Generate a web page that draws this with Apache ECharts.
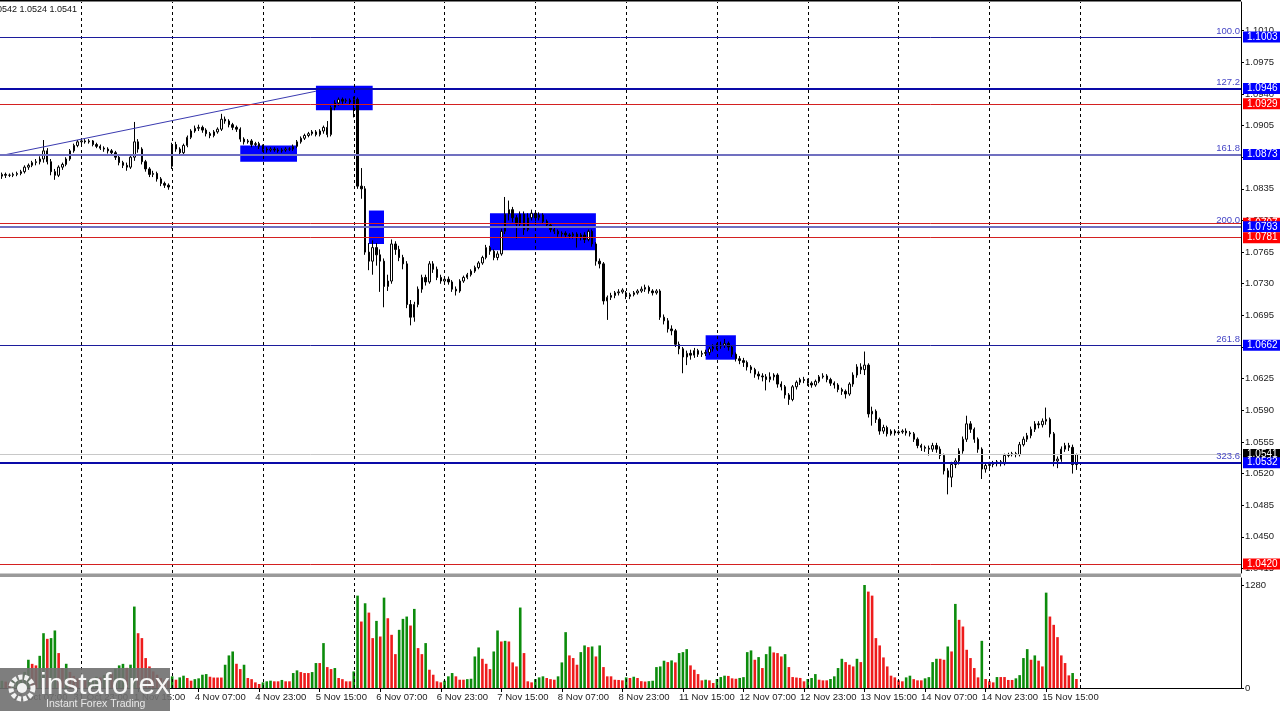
<!DOCTYPE html>
<html><head><meta charset="utf-8">
<script src="https://cdn.jsdelivr.net/npm/echarts@6/dist/echarts.min.js"></script>
<style>html,body{margin:0;padding:0;background:#fff}#c{width:1280px;height:711px}</style>
</head><body><div id="c"></div>
<script>
// ---- DATA: hourly candles [open, close, low, high] per trading day ----
const oct31 = [
[1.0849,1.0851,1.0846,1.0853],[1.0851,1.0850,1.0847,1.0853],[1.0850,1.0850,1.0848,1.0852],[1.0850,1.0851,1.0848,1.0853],
[1.0851,1.0852,1.0849,1.0854],[1.0852,1.0854,1.0850,1.0856],[1.0854,1.0859,1.0852,1.0861],[1.0859,1.0861,1.0856,1.0863],
[1.0861,1.0864,1.0859,1.0866],[1.0864,1.0865,1.0861,1.0868],[1.0865,1.0868,1.0862,1.0871],[1.0868,1.0877,1.0864,1.0889],
[1.0877,1.0865,1.0862,1.0880],[1.0865,1.0854,1.0850,1.0868],[1.0854,1.0850,1.0845,1.0857],[1.0850,1.0859,1.0848,1.0861],
[1.0859,1.0862,1.0856,1.0864],[1.0862,1.0868,1.0860,1.0870],[1.0868,1.0877,1.0866,1.0879],[1.0877,1.0883,1.0875,1.0885],
[1.0883,1.0887,1.0881,1.0889]];
const nov01 = [
[1.0887,1.0888,1.0884,1.0891],[1.0888,1.0887,1.0885,1.0890],[1.0887,1.0888,1.0885,1.0890],[1.0888,1.0884,1.0882,1.0889],
[1.0884,1.0882,1.0880,1.0886],[1.0882,1.0880,1.0878,1.0884],[1.0880,1.0879,1.0876,1.0882],[1.0879,1.0877,1.0874,1.0881],
[1.0877,1.0875,1.0872,1.0879],[1.0875,1.0870,1.0867,1.0877],[1.0870,1.0864,1.0861,1.0872],[1.0864,1.0861,1.0858,1.0866],
[1.0861,1.0859,1.0855,1.0864],[1.0859,1.0870,1.0857,1.0872],[1.0870,1.0887,1.0866,1.0909],[1.0887,1.0879,1.0875,1.0890],
[1.0879,1.0865,1.0862,1.0881],[1.0865,1.0857,1.0854,1.0867],[1.0857,1.0851,1.0848,1.0859],[1.0851,1.0852,1.0848,1.0855],
[1.0852,1.0846,1.0843,1.0854],[1.0846,1.0841,1.0838,1.0848],[1.0841,1.0839,1.0836,1.0843],[1.0839,1.0837,1.0834,1.0841]];
const nov04 = [
[1.0860,1.0884,1.0857,1.0886],[1.0884,1.0879,1.0876,1.0887],[1.0879,1.0875,1.0872,1.0881],[1.0875,1.0883,1.0873,1.0885],
[1.0883,1.0892,1.0881,1.0894],[1.0892,1.0899,1.0890,1.0901],[1.0899,1.0902,1.0897,1.0905],[1.0902,1.0903,1.0899,1.0906],
[1.0903,1.0900,1.0897,1.0905],[1.0900,1.0896,1.0893,1.0902],[1.0896,1.0894,1.0891,1.0898],[1.0894,1.0898,1.0892,1.0900],
[1.0898,1.0901,1.0896,1.0903],[1.0901,1.0912,1.0899,1.0918],[1.0912,1.0910,1.0907,1.0915],[1.0910,1.0906,1.0903,1.0912],
[1.0906,1.0903,1.0900,1.0908],[1.0903,1.0901,1.0898,1.0905],[1.0901,1.0890,1.0887,1.0903],[1.0890,1.0887,1.0884,1.0892],
[1.0887,1.0888,1.0885,1.0890],[1.0888,1.0884,1.0881,1.0890],[1.0884,1.0885,1.0882,1.0887],[1.0885,1.0882,1.0879,1.0887]];
const nov05 = [
[1.0882,1.0879,1.0876,1.0884],[1.0879,1.0878,1.0875,1.0881],[1.0878,1.0879,1.0876,1.0881],[1.0879,1.0878,1.0876,1.0881],
[1.0878,1.0877,1.0875,1.0880],[1.0877,1.0878,1.0875,1.0880],[1.0878,1.0879,1.0876,1.0881],[1.0879,1.0879,1.0877,1.0881],
[1.0879,1.0882,1.0877,1.0884],[1.0882,1.0887,1.0880,1.0889],[1.0887,1.0891,1.0885,1.0893],[1.0891,1.0894,1.0889,1.0896],
[1.0894,1.0896,1.0892,1.0898],[1.0896,1.0898,1.0894,1.0900],[1.0898,1.0895,1.0893,1.0900],[1.0895,1.0899,1.0893,1.0901],
[1.0899,1.0903,1.0896,1.0905],[1.0903,1.0895,1.0892,1.0910],[1.0895,1.0925,1.0893,1.0927],[1.0925,1.0930,1.0922,1.0933],
[1.0930,1.0934,1.0927,1.0936],[1.0934,1.0932,1.0929,1.0936],[1.0932,1.0933,1.0930,1.0935],[1.0933,1.0931,1.0928,1.0935]];
const nov06 = [
[1.0931,1.0934,1.0914,1.0937],[1.0934,1.0838,1.0835,1.0936],[1.0838,1.0835,1.0824,1.0858],[1.0835,1.0765,1.0762,1.0838],
[1.0765,1.0755,1.0745,1.0775],[1.0755,1.0770,1.0740,1.0778],[1.0770,1.0762,1.0750,1.0775],[1.0762,1.0755,1.0721,1.0768],
[1.0755,1.0727,1.0704,1.0758],[1.0727,1.0733,1.0722,1.0740],[1.0733,1.0774,1.0730,1.0779],[1.0774,1.0768,1.0762,1.0777],
[1.0768,1.0759,1.0755,1.0772],[1.0759,1.0752,1.0746,1.0762],[1.0752,1.0707,1.0703,1.0755],[1.0707,1.0693,1.0684,1.0712],
[1.0693,1.0707,1.0688,1.0710],[1.0707,1.0724,1.0704,1.0727],[1.0724,1.0737,1.0720,1.0740],[1.0737,1.0732,1.0728,1.0740],
[1.0732,1.0752,1.0730,1.0755],[1.0752,1.0746,1.0742,1.0755],[1.0746,1.0737,1.0734,1.0749],[1.0737,1.0733,1.0730,1.0740]];
const nov07 = [
[1.0733,1.0735,1.0730,1.0738],[1.0735,1.0732,1.0729,1.0738],[1.0732,1.0724,1.0721,1.0734],[1.0724,1.0722,1.0717,1.0727],
[1.0722,1.0733,1.0720,1.0735],[1.0733,1.0737,1.0731,1.0739],[1.0737,1.0740,1.0735,1.0742],[1.0740,1.0744,1.0738,1.0746],
[1.0744,1.0748,1.0742,1.0750],[1.0748,1.0753,1.0746,1.0755],[1.0753,1.0759,1.0751,1.0761],[1.0759,1.0770,1.0757,1.0773],
[1.0770,1.0766,1.0762,1.0772],[1.0766,1.0759,1.0756,1.0768],[1.0759,1.0763,1.0756,1.0766],[1.0763,1.0788,1.0761,1.0791],
[1.0788,1.0807,1.0785,1.0826],[1.0807,1.0812,1.0800,1.0822],[1.0812,1.0803,1.0798,1.0815],[1.0803,1.0796,1.0780,1.0806],
[1.0796,1.0807,1.0792,1.0810],[1.0807,1.0790,1.0784,1.0810],[1.0790,1.0803,1.0788,1.0808],[1.0803,1.0808,1.0800,1.0812]];
const nov08 = [
[1.0808,1.0803,1.0799,1.0811],[1.0803,1.0806,1.0800,1.0809],[1.0806,1.0799,1.0796,1.0808],[1.0799,1.0795,1.0792,1.0801],
[1.0795,1.0790,1.0787,1.0797],[1.0790,1.0788,1.0785,1.0792],[1.0788,1.0785,1.0782,1.0790],[1.0785,1.0786,1.0782,1.0788],
[1.0786,1.0784,1.0781,1.0788],[1.0784,1.0783,1.0780,1.0786],[1.0783,1.0785,1.0780,1.0787],[1.0785,1.0781,1.0770,1.0787],
[1.0781,1.0784,1.0778,1.0786],[1.0784,1.0779,1.0775,1.0787],[1.0779,1.0788,1.0777,1.0790],[1.0788,1.0774,1.0771,1.0790],
[1.0774,1.0755,1.0750,1.0776],[1.0755,1.0752,1.0747,1.0758],[1.0752,1.0711,1.0707,1.0754],[1.0711,1.0715,1.0690,1.0717],
[1.0715,1.0717,1.0712,1.0720],[1.0717,1.0720,1.0714,1.0722],[1.0720,1.0721,1.0717,1.0724],[1.0721,1.0723,1.0719,1.0725]];
const nov11 = [
[1.0720,1.0716,1.0713,1.0722],[1.0716,1.0718,1.0713,1.0720],[1.0718,1.0720,1.0716,1.0722],[1.0720,1.0722,1.0718,1.0724],
[1.0722,1.0724,1.0720,1.0727],[1.0724,1.0726,1.0721,1.0729],[1.0726,1.0722,1.0719,1.0728],[1.0722,1.0720,1.0717,1.0724],
[1.0720,1.0722,1.0718,1.0724],[1.0722,1.0693,1.0690,1.0724],[1.0693,1.0689,1.0685,1.0696],[1.0689,1.0680,1.0676,1.0692],
[1.0680,1.0678,1.0673,1.0684],[1.0678,1.0663,1.0660,1.0680],[1.0663,1.0658,1.0652,1.0666],[1.0658,1.0649,1.0631,1.0660],
[1.0649,1.0653,1.0640,1.0656],[1.0653,1.0651,1.0646,1.0657],[1.0651,1.0656,1.0648,1.0659],[1.0656,1.0652,1.0649,1.0658],
[1.0652,1.0653,1.0649,1.0656],[1.0653,1.0654,1.0650,1.0657],[1.0654,1.0658,1.0651,1.0660],[1.0658,1.0660,1.0655,1.0663]];
const nov12 = [
[1.0660,1.0661,1.0657,1.0664],[1.0661,1.0662,1.0658,1.0666],[1.0662,1.0664,1.0659,1.0669],[1.0664,1.0660,1.0656,1.0666],
[1.0660,1.0652,1.0649,1.0662],[1.0652,1.0647,1.0644,1.0654],[1.0647,1.0645,1.0641,1.0650],[1.0645,1.0643,1.0638,1.0648],
[1.0643,1.0638,1.0634,1.0645],[1.0638,1.0635,1.0631,1.0640],[1.0635,1.0630,1.0626,1.0637],[1.0630,1.0628,1.0624,1.0633],
[1.0628,1.0627,1.0622,1.0631],[1.0627,1.0624,1.0612,1.0630],[1.0624,1.0627,1.0621,1.0632],[1.0627,1.0629,1.0623,1.0631],
[1.0629,1.0619,1.0615,1.0631],[1.0619,1.0616,1.0612,1.0622],[1.0616,1.0607,1.0603,1.0618],[1.0607,1.0602,1.0596,1.0609],
[1.0602,1.0616,1.0600,1.0618],[1.0616,1.0621,1.0613,1.0623],[1.0621,1.0624,1.0618,1.0626],[1.0624,1.0623,1.0620,1.0627]];
const nov13 = [
[1.0623,1.0620,1.0617,1.0625],[1.0620,1.0618,1.0615,1.0622],[1.0618,1.0622,1.0616,1.0624],[1.0622,1.0627,1.0620,1.0629],
[1.0627,1.0628,1.0625,1.0631],[1.0628,1.0624,1.0621,1.0630],[1.0624,1.0620,1.0617,1.0626],[1.0620,1.0618,1.0614,1.0622],
[1.0618,1.0613,1.0610,1.0620],[1.0613,1.0611,1.0607,1.0615],[1.0611,1.0608,1.0603,1.0613],[1.0608,1.0619,1.0606,1.0621],
[1.0619,1.0629,1.0616,1.0632],[1.0629,1.0638,1.0626,1.0641],[1.0638,1.0635,1.0630,1.0642],[1.0635,1.0640,1.0629,1.0655],
[1.0640,1.0586,1.0582,1.0642],[1.0586,1.0589,1.0573,1.0594],[1.0589,1.0580,1.0576,1.0591],[1.0580,1.0567,1.0563,1.0582],
[1.0567,1.0571,1.0564,1.0574],[1.0571,1.0564,1.0561,1.0573],[1.0564,1.0567,1.0562,1.0569],[1.0567,1.0565,1.0562,1.0569]];
const nov14 = [
[1.0565,1.0566,1.0563,1.0568],[1.0566,1.0567,1.0564,1.0569],[1.0567,1.0565,1.0562,1.0570],[1.0565,1.0564,1.0561,1.0567],
[1.0564,1.0558,1.0555,1.0566],[1.0558,1.0551,1.0548,1.0560],[1.0551,1.0549,1.0545,1.0553],[1.0549,1.0548,1.0544,1.0551],
[1.0548,1.0547,1.0540,1.0551],[1.0547,1.0551,1.0544,1.0554],[1.0551,1.0547,1.0543,1.0554],[1.0547,1.0540,1.0536,1.0550],
[1.0540,1.0523,1.0519,1.0542],[1.0523,1.0516,1.0497,1.0526],[1.0516,1.0530,1.0505,1.0533],[1.0530,1.0534,1.0526,1.0537],
[1.0534,1.0545,1.0530,1.0548],[1.0545,1.0558,1.0542,1.0561],[1.0558,1.0575,1.0555,1.0584],[1.0575,1.0569,1.0565,1.0578],
[1.0569,1.0558,1.0554,1.0571],[1.0558,1.0547,1.0543,1.0560],[1.0547,1.0525,1.0514,1.0549],[1.0525,1.0529,1.0521,1.0532]];
const nov15 = [
[1.0529,1.0530,1.0526,1.0533],[1.0530,1.0531,1.0527,1.0534],[1.0531,1.0533,1.0528,1.0535],[1.0533,1.0531,1.0528,1.0535],
[1.0531,1.0540,1.0529,1.0542],[1.0540,1.0541,1.0538,1.0543],[1.0541,1.0542,1.0539,1.0544],[1.0542,1.0541,1.0538,1.0544],
[1.0541,1.0552,1.0539,1.0555],[1.0552,1.0558,1.0550,1.0561],[1.0558,1.0562,1.0555,1.0565],[1.0562,1.0569,1.0559,1.0572],
[1.0569,1.0575,1.0566,1.0578],[1.0575,1.0574,1.0570,1.0578],[1.0574,1.0578,1.0571,1.0581],[1.0578,1.0580,1.0574,1.0593],
[1.0580,1.0564,1.0560,1.0582],[1.0564,1.0534,1.0528,1.0566],[1.0534,1.0536,1.0526,1.0539],[1.0536,1.0547,1.0533,1.0550],
[1.0547,1.0551,1.0544,1.0554],[1.0551,1.0549,1.0545,1.0554],[1.0549,1.0530,1.0520,1.0552],[1.0530,1.0541,1.0524,1.0542]];

// ---- DATA: tick volumes per day ----
const volOct31 = [90,80,70,100,120,160,200,351,300,281,400,681,611,620,715,434,248,301,200,150,120];
const volNov01 = [110,95,100,120,140,130,160,200,180,240,281,300,250,290,1012,681,620,372,268,206,165,124,103,90];
const volNov04 = [145,103,132,153,124,91,110,120,165,173,140,130,130,130,289,405,454,301,235,289,124,110,70,50];
const volNov05 = [70,83,91,83,83,100,83,83,186,219,198,186,186,198,310,310,558,260,235,248,124,110,83,83];
const volNov06 = [206,1148,826,1053,937,620,834,640,1123,867,661,421,723,859,888,776,983,496,421,558,227,165,83,70];
const volNov07 = [91,145,186,145,103,103,110,115,392,504,363,301,235,454,715,578,586,578,318,268,1000,434,83,70];
const volNov08 = [110,132,145,124,110,103,145,318,694,405,372,289,446,529,508,516,392,529,260,145,145,103,100,95];
const volNov11 = [132,124,140,124,85,80,85,90,260,268,339,322,343,318,434,446,483,281,227,173,95,103,95,62];
const volNov12 = [112,136,153,150,120,115,125,135,446,467,351,384,248,421,516,442,434,392,421,260,136,130,125,83];
const volNov13 = [112,124,173,103,95,95,112,145,248,363,322,289,268,363,322,1280,1198,1148,620,529,380,268,153,132];
const volNov14 = [95,83,132,153,110,95,95,120,135,322,363,363,351,516,454,1045,847,764,475,372,248,132,586,112];
const volNov15 = [83,70,136,136,136,100,100,120,160,372,483,351,405,339,268,1185,888,785,632,405,310,157,186,112];

// ---- DATA: trading days (first hour of each) ----
const tradingDays = [['31 Oct',3],['1 Nov',0],['4 Nov',0],['5 Nov',0],['6 Nov',0],['7 Nov',0],['8 Nov',0],
                     ['11 Nov',0],['12 Nov',0],['13 Nov',0],['14 Nov',0],['15 Nov',0]];
// ---- DATA: horizontal levels ----
const levelPrices = [1.1003, 1.0946, 1.0929, 1.0873, 1.0797, 1.0793, 1.0781, 1.0662, 1.0541, 1.0532, 1.0420];
const levelKinds  = ['fib','fibBold','red','fibLight','red','fibLight','red','fib','current','fibBold','red'];
const fibNames    = {1.1003:'100.0', 1.0946:'127.2', 1.0873:'161.8', 1.0793:'200.0', 1.0662:'261.8', 1.0532:'323.6'};
const priceTicks  = [1.0415,1.0450,1.0485,1.0520,1.0555,1.0590,1.0625,1.0660,1.0695,1.0730,1.0765,1.0800,1.0835,1.0870,1.0905,1.0940,1.0975,1.1010];
const volumeTicks = [0, 1280];
// zones: [startBar, endBar, lowPrice, highPrice]
const zones = [[63,78,1.0865,1.0883],[83,98,1.0922,1.0949],[97,101,1.0774,1.0811],[129,157,1.0767,1.0808],[186,194,1.0646,1.0673]];
// trend line: [bar, price] endpoints
const trendLine = [[0,1.0872],[83,1.0943]];
const header = '1.0530 1.0542 1.0524 1.0541';

// ---- build ----
const candles = [].concat(oct31,nov01,nov04,nov05,nov06,nov07,nov08,nov11,nov12,nov13,nov14,nov15);
const vols = [].concat(volOct31,volNov01,volNov04,volNov05,volNov06,volNov07,volNov08,volNov11,volNov12,volNov13,volNov14,volNov15);
const cats = [];
const dayStarts = [];
tradingDays.forEach(([d,h0]) => {
  if (h0 === 0) dayStarts.push(cats.length);
  for (let h = h0; h < 24; h++) cats.push(d + ' ' + String(h).padStart(2,'0') + ':00');
});
const nData = cats.length;
dayStarts.push(nData);
for (let k = 0; k < 43; k++) cats.push('16 Nov ' + String(k % 24).padStart(2,'0') + ':00#' + k);

const GREEN = '#0c8c0c', RED = '#ee1c1c';
const volData = vols.map((v,i) => ({value:v, itemStyle:{color:(i===0 || v>vols[i-1]) ? GREEN : RED}}));

const FONT = 'Liberation Sans';
const styleOf = {
  fib:      {color:'#1c1c9c', width:1},
  fibBold:  {color:'#0a0aa8', width:2},
  fibLight: {color:'#7070c0', width:2},
  red:      {color:'#d42020', width:1},
  current:  {color:'#c8c8c8', width:1}
};
const boxColor = {fib:'#0000ff', fibBold:'#0000ff', fibLight:'#0000ff', red:'#ff0000', current:'#000000'};

const levelLines = [];
levelPrices.forEach((p,i) => {
  const k = levelKinds[i];
  levelLines.push({
    yAxis: p,
    lineStyle: {color: styleOf[k].color, width: styleOf[k].width, type:'solid'},
    label: {show:true, position:'end', distance:2, formatter: p.toFixed(4), color:'#fff',
            backgroundColor: boxColor[k], padding:[1,4,0,4], fontFamily:FONT, fontSize:10, lineHeight:10}
  });
});
Object.keys(fibNames).forEach(p => {
  levelLines.push({
    yAxis: +p,
    lineStyle: {color:'rgba(0,0,0,0)', width:0},
    label: {show:true, position:'insideEndTop', distance:[1,1], formatter: fibNames[p], color:'#4646c6',
            fontFamily:FONT, fontSize:9.5, opacity:1}
  });
});
const dashedDays = dayStarts.map(i => ({xAxis: cats[i]}));

const chart = echarts.init(document.getElementById('c'), null, {renderer:'canvas'});
chart.setOption({
  animation:false,
  backgroundColor:'#ffffff',
  grid:[
    {left:-3, width:1244, top:2, height:571},
    {left:-3, width:1244, top:578, height:110}
  ],
  xAxis:[
    {type:'category', gridIndex:0, data:cats, boundaryGap:true, show:false},
    {type:'category', gridIndex:1, data:cats, boundaryGap:true,
     axisLine:{lineStyle:{color:'#000', width:1}},
     axisTick:{show:true, alignWithLabel:true, length:4, lineStyle:{color:'#000'},
               interval:(i)=> i%16===4 && i<nData},
     axisLabel:{interval:(i)=> i%16===4 && i<nData, align:'left', margin:4, color:'#222',
                fontFamily:FONT, fontSize:9.5, padding:[0,0,0,-4], formatter:(v)=>v}}
  ],
  yAxis:[
    {type:'value', gridIndex:0, position:'right', min:1.0410, max:1.10417, scale:true,
     splitLine:{show:false},
     axisLine:{show:true, lineStyle:{color:'#000'}},
     axisTick:{show:true, length:3, customValues:priceTicks, lineStyle:{color:'#000'}},
     axisLabel:{customValues:priceTicks, formatter:(v)=>v.toFixed(4), color:'#222', margin:4,
                fontFamily:FONT, fontSize:9.5}},
    {type:'value', gridIndex:1, position:'right', min:0, max:1367,
     splitLine:{show:false},
     axisLine:{show:true, lineStyle:{color:'#000'}},
     axisTick:{show:true, length:3, customValues:volumeTicks, lineStyle:{color:'#000'}},
     axisLabel:{customValues:volumeTicks, formatter:(v)=>String(Math.round(v)), color:'#222', margin:4,
                fontFamily:FONT, fontSize:9.5}}
  ],
  series:[
    {type:'candlestick', xAxisIndex:0, yAxisIndex:0, data:candles, barMaxWidth:3,
     itemStyle:{color:'#ffffff', color0:'#000000', borderColor:'#000000', borderColor0:'#000000', borderWidth:1},
     markArea:{silent:true, itemStyle:{color:'#0000ff', opacity:1},
       data: zones.map(z => [{xAxis:cats[z[0]], yAxis:z[2]}, {xAxis:cats[z[1]], yAxis:z[3]}])},
     markLine:{silent:true, symbol:['none','none'], animation:false, precision:5,
       data: [
         ...dashedDays.map(d => Object.assign({}, d, {lineStyle:{color:'#000', type:[3,3], width:1}, label:{show:false}})),
         [{coord:[cats[trendLine[0][0]], trendLine[0][1]], lineStyle:{color:'#3a3ab0', width:1, type:'solid'}, label:{show:false}},
          {coord:[cats[trendLine[1][0]], trendLine[1][1]]}],
         ...levelLines
       ]}
    },
    {type:'bar', xAxisIndex:1, yAxisIndex:1, data:volData, barWidth:2.6,
     markLine:{silent:true, symbol:['none','none'], animation:false,
       data: dashedDays.map(d => Object.assign({}, d, {lineStyle:{color:'#000', type:[3,3], width:1}, label:{show:false}}))}
    }
  ],
  graphic:[
    {type:'rect', shape:{x:0, y:0, width:1241, height:1.5}, style:{fill:'#000'}, z:100},
    {type:'rect', shape:{x:0, y:573.5, width:1241, height:3.5}, style:{fill:'#9a9a9a'}, z:100},
    {type:'text', x:77, y:10, style:{text:header, textAlign:'right', textVerticalAlign:'middle',
       font:'9px "Liberation Sans"', fill:'#111'}, z:100},
    {type:'rect', z:200, shape:{x:0, y:668, width:170, height:43}, style:{fill:'rgba(112,112,112,0.9)'}},
    {type:'circle', z:201, shape:{cx:22, cy:688, r:11}, style:{fill:'none', stroke:'#f2f2f2', lineWidth:5, lineDash:[4,2]}},
    {type:'circle', z:201, shape:{cx:22, cy:688, r:5}, style:{fill:'#f2f2f2'}},
    {type:'text', z:201, x:40, y:686, style:{text:'instaforex', textVerticalAlign:'middle',
       font:'30px "Liberation Sans"', fill:'#f6f6f6'}},
    {type:'text', z:201, x:46, y:704, style:{text:'Instant Forex Trading', textVerticalAlign:'middle',
       font:'10.5px "Liberation Sans"', fill:'#e8e8e8'}}
  ]
});
</script></body></html>
